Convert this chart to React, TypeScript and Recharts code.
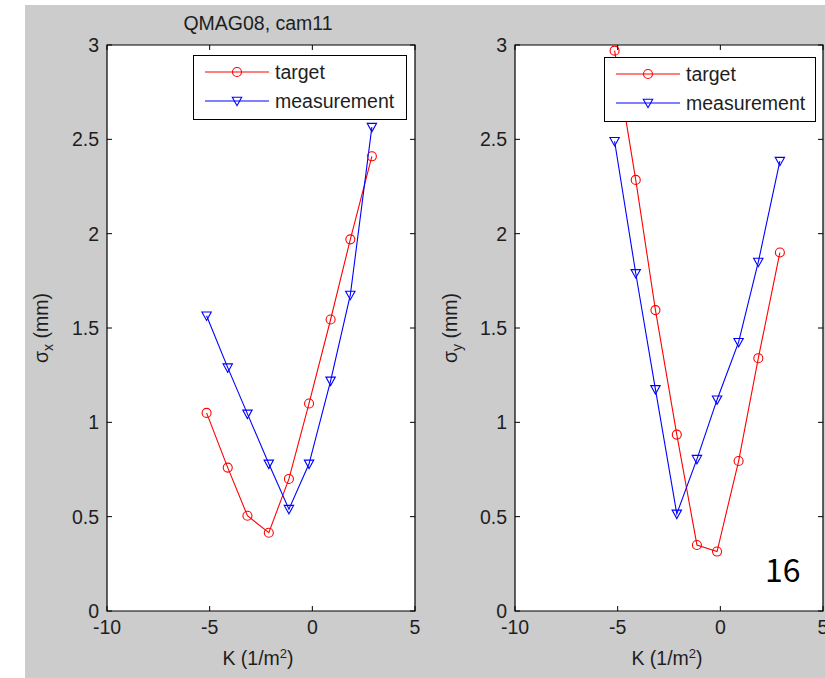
import React from 'react';
import { LineChart, Line, XAxis, YAxis, ReferenceArea, Legend } from 'recharts';

// ---- data ----
const kValues = [-5.15, -4.12, -3.16, -2.12, -1.14, -0.16, 0.89, 1.85, 2.9];
const sigmaXTarget = [1.05, 0.76, 0.505, 0.415, 0.7, 1.1, 1.545, 1.97, 2.41];
const sigmaXMeasurement = [1.565, 1.29, 1.045, 0.78, 0.54, 0.78, 1.22, 1.675, 2.565];
const sigmaYTarget = [2.97, 2.285, 1.595, 0.935, 0.35, 0.315, 0.795, 1.34, 1.9];
const sigmaYMeasurement = [2.49, 1.79, 1.175, 0.515, 0.805, 1.12, 1.425, 1.85, 2.385];
const xTicks = [-10, -5, 0, 5];
const yTicks = [0, 0.5, 1, 1.5, 2, 2.5, 3];
const xDomain = [-10, 5];
const yDomain = [0, 3];
const seriesNames = ['target', 'measurement'];
const titleText = 'QMAG08, cam11';
const pageNumber = '16';

const FONT = '"Liberation Sans", Arial, Helvetica, sans-serif';
const FS = 19.5;
const RED = '#ff0000';
const BLUE = '#0000ff';
const INK = '#1e1e1e';
const PLOT_TOP = 45;
const PLOT_BOTTOM = 611;
const TICK_LEN = 5;
const LINE_W = 1.1;

const leftData = kValues.map((k, i) => ({ k, target: sigmaXTarget[i], measurement: sigmaXMeasurement[i] }));
const rightData = kValues.map((k, i) => ({ k, target: sigmaYTarget[i], measurement: sigmaYMeasurement[i] }));

const CircleDot = (p: any) => {
  if (p.cx == null || p.cy == null) return <g key={`c${p.index}`} />;
  return <circle key={`c${p.index}`} cx={p.cx} cy={p.cy} r={4.5} fill="none" stroke={RED} strokeWidth={LINE_W} />;
};
const TriDot = (p: any) => {
  if (p.cx == null || p.cy == null) return <g key={`t${p.index}`} />;
  const { cx, cy } = p;
  return (
    <polygon
      key={`t${p.index}`}
      points={`${cx - 4.7},${cy - 3.7} ${cx + 4.7},${cy - 3.7} ${cx},${cy + 4.7}`}
      fill="none"
      stroke={BLUE}
      strokeWidth={LINE_W}
    />
  );
};

const makeLegend = (w: number) => () => (
  <svg width={w} height={66} style={{ display: 'block' }}>
    <rect x={0.5} y={0.5} width={w - 1} height={64} fill="#ffffff" stroke="#000" strokeWidth={1} />
    <line x1={12} x2={76} y1={17} y2={17} stroke={RED} strokeWidth={LINE_W} />
    <circle cx={44} cy={17} r={4.5} fill="none" stroke={RED} strokeWidth={LINE_W} />
    <text x={82} y={23.5} fontSize={FS} fontFamily={FONT} fill={INK}>{seriesNames[0]}</text>
    <line x1={12} x2={76} y1={46} y2={46} stroke={BLUE} strokeWidth={LINE_W} />
    <polygon points={`${44 - 4.7},${46 - 3.7} ${44 + 4.7},${46 - 3.7} 44,${46 + 4.7}`} fill="none" stroke={BLUE} strokeWidth={LINE_W} />
    <text x={82} y={52.5} fontSize={FS} fontFamily={FONT} fill={INK}>{seriesNames[1]}</text>
  </svg>
);

type PanelProps = {
  data: any[];
  pageLeft: number;
  width: number;
  marginLeft: number;
  marginRight: number;
  sub: string;
  yLabelX: number;
  xLabelX: number;
  legendLeft: number;
  legendTop: number;
  legendWidth: number;
  showTitle?: boolean;
  titleX?: number;
  showPage?: boolean;
};

const Panel = (props: PanelProps) => {
  const { data, pageLeft, width, marginLeft, marginRight, sub, yLabelX, xLabelX, legendLeft, legendTop, legendWidth } = props;
  const H = 678;
  const YW = 60;
  const plotLeft = marginLeft + YW;
  const plotRight = width - marginRight;
  const yLabelY = 328;

  const XTick = (p: any) => (
    <g>
      <line x1={p.x} x2={p.x} y1={PLOT_BOTTOM} y2={PLOT_BOTTOM - TICK_LEN} stroke="#000" strokeWidth={1} />
      <line x1={p.x} x2={p.x} y1={PLOT_TOP} y2={PLOT_TOP + TICK_LEN} stroke="#000" strokeWidth={1} />
      <text x={p.x} y={p.y} dy="0.71em" textAnchor="middle" fontSize={FS} fontFamily={FONT} fill={INK}>
        {p.payload.value}
      </text>
    </g>
  );
  const YTick = (p: any) => (
    <g>
      <line x1={plotLeft} x2={plotLeft + TICK_LEN} y1={p.y} y2={p.y} stroke="#000" strokeWidth={1} />
      <line x1={plotRight} x2={plotRight - TICK_LEN} y1={p.y} y2={p.y} stroke="#000" strokeWidth={1} />
      <text x={p.x} y={p.y} dy="0.355em" textAnchor="end" fontSize={FS} fontFamily={FONT} fill={INK}>
        {p.payload.value}
      </text>
    </g>
  );

  const overlay = () => (
    <g>
      {props.showTitle ? (
        <text x={props.titleX} y={30} textAnchor="middle" fontSize={FS} fontFamily={FONT} fill={INK}>
          {titleText}
        </text>
      ) : null}
      {props.showPage ? (
        <text x={width - 60} y={582} textAnchor="start" fontSize={32} fontFamily={'"Noto Sans CJK JP", "Noto Sans", sans-serif'} fill="#000">
          {pageNumber}
        </text>
      ) : null}
    </g>
  );

  return (
    <div style={{ position: 'absolute', left: pageLeft, top: 0 }}>
      <LineChart width={width} height={H} data={data} margin={{ top: PLOT_TOP, right: marginRight, bottom: 7, left: marginLeft }}>
        <XAxis
          xAxisId="x"
          dataKey="k"
          type="number"
          domain={xDomain}
          ticks={xTicks}
          interval={0}
          height={60}
          tickSize={0}
          tickMargin={9}
          tickLine={false}
          axisLine={false}
          tick={XTick}
          label={{
            content: () => (
              <text x={xLabelX} y={665} textAnchor="middle" fontSize={FS} fontFamily={FONT} fill={INK}>
                K (1/m<tspan dy={-7} fontSize={13}>2</tspan><tspan dy={7}>)</tspan>
              </text>
            ),
          }}
        />
        <YAxis
          yAxisId="y"
          type="number"
          domain={yDomain}
          ticks={yTicks}
          interval={0}
          width={YW}
          tickSize={0}
          tickMargin={8}
          tickLine={false}
          axisLine={false}
          tick={YTick}
          label={{
            content: () => (
              <text
                x={yLabelX}
                y={yLabelY}
                textAnchor="middle"
                transform={`rotate(-90, ${yLabelX}, ${yLabelY})`}
                fontSize={FS}
                fontFamily={FONT}
                fill={INK}
              >
                σ<tspan dy={5} fontSize={14}>{sub}</tspan><tspan dy={-5}> (mm)</tspan>
              </text>
            ),
          }}
        />
        <ReferenceArea
          xAxisId="x"
          yAxisId="y"
          x1={xDomain[0]}
          x2={xDomain[1]}
          y1={yDomain[0]}
          y2={yDomain[1]}
          fill="#ffffff"
          fillOpacity={1}
          stroke="#000"
          strokeWidth={1.2}
          label={{ content: overlay }}
        />
        <Line
          xAxisId="x"
          yAxisId="y"
          dataKey="target"
          name={seriesNames[0]}
          type="linear"
          stroke={RED}
          strokeWidth={LINE_W}
          dot={CircleDot}
          activeDot={false}
          isAnimationActive={false}
        />
        <Line
          xAxisId="x"
          yAxisId="y"
          dataKey="measurement"
          name={seriesNames[1]}
          type="linear"
          stroke={BLUE}
          strokeWidth={LINE_W}
          dot={TriDot}
          activeDot={false}
          isAnimationActive={false}
        />
        <Legend
          layout="horizontal"
          verticalAlign="middle"
          align="center"
          content={makeLegend(legendWidth)}
          wrapperStyle={{ left: legendLeft, top: legendTop, width: legendWidth, height: 66, margin: 0, padding: 0 }}
        />
      </LineChart>
    </div>
  );
};

export default function App() {
  return (
    <div style={{ position: 'absolute', left: 0, top: 0, width: 825, height: 678, background: '#ffffff', overflow: 'hidden' }}>
      <div style={{ position: 'absolute', left: 25, top: 5, width: 800, height: 673, background: '#cccccc' }} />
      <Panel
        data={leftData}
        pageLeft={0}
        width={420}
        marginLeft={47}
        marginRight={5}
        sub="x"
        yLabelX={48}
        xLabelX={258}
        legendLeft={193}
        legendTop={55}
        legendWidth={214}
        showTitle
        titleX={258}
      />
      <Panel
        data={rightData}
        pageLeft={420}
        width={405}
        marginLeft={35}
        marginRight={2}
        sub="y"
        yLabelX={37}
        xLabelX={247}
        legendLeft={184}
        legendTop={57}
        legendWidth={212}
        showPage
      />
    </div>
  );
}
